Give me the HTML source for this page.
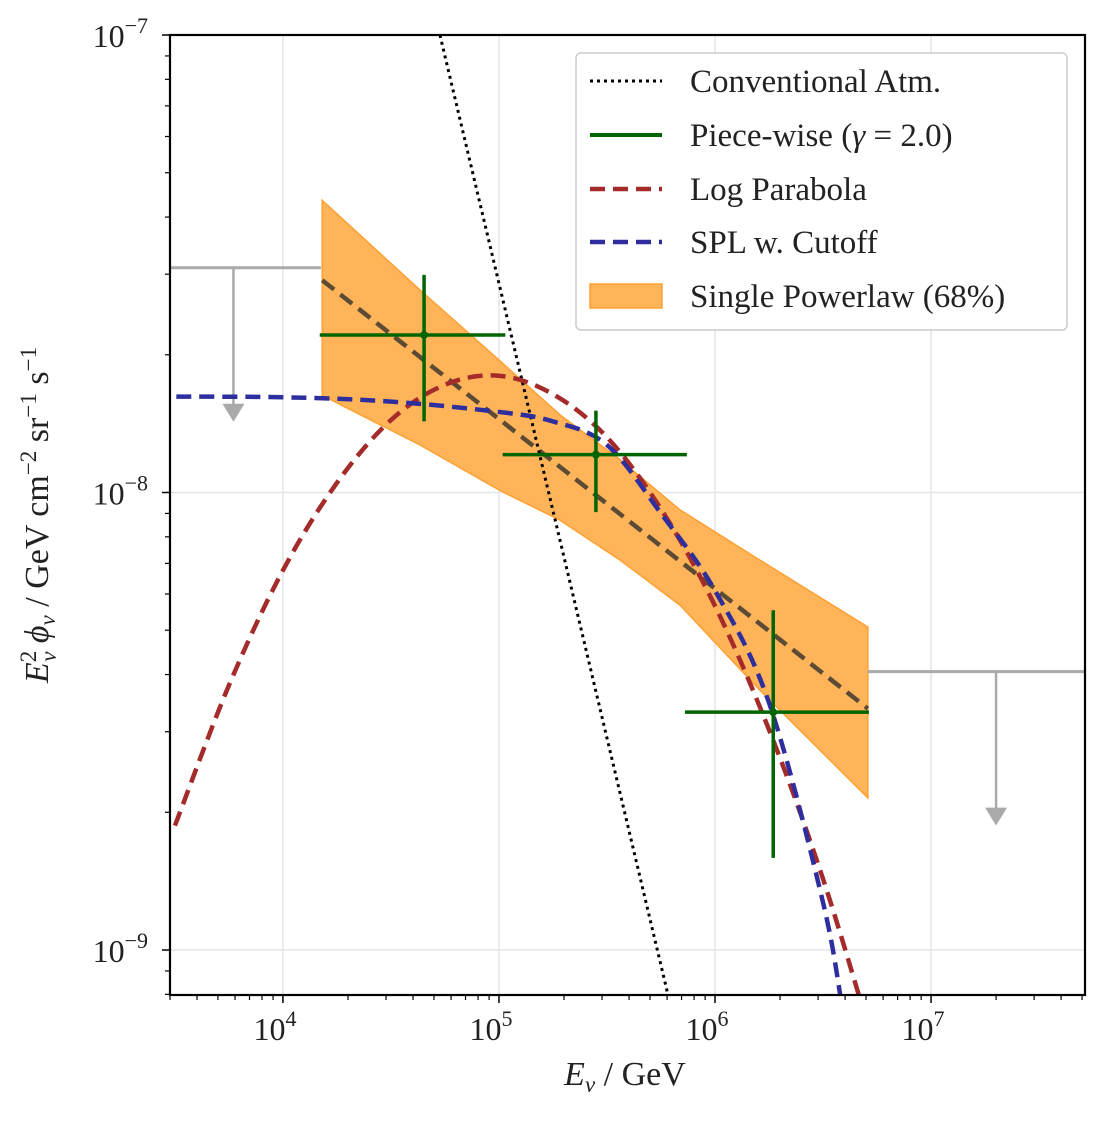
<!DOCTYPE html>
<html><head><meta charset="utf-8"><style>
body{margin:0;background:#fff;}
svg text{font-family:"Liberation Serif",serif;fill:#222;}
</style></head><body>
<svg id="chart" width="1110" height="1123" viewBox="0 0 1110 1123" xmlns="http://www.w3.org/2000/svg">
<defs><clipPath id="clip"><rect x="170" y="35" width="915" height="960"/></clipPath></defs>
<g id="grid"></g>
<g id="plot" clip-path="url(#clip)"></g>
<rect x="170" y="35" width="915" height="960" fill="none" stroke="#000" stroke-width="2.2"/>
<g id="ticks"></g>
<text x="625" y="1085" font-size="34" text-anchor="middle"><tspan font-style="italic">E</tspan><tspan font-style="italic" font-size="23" dy="7">ν</tspan><tspan dy="-7"> / GeV</tspan></text>
<text transform="translate(48,515) rotate(-90)" font-size="34" text-anchor="middle"><tspan font-style="italic">E</tspan><tspan font-size="23" dy="-12">2</tspan><tspan font-style="italic" font-size="23" dx="-11" dy="20">ν</tspan><tspan font-style="italic" dy="-8"> ϕ</tspan><tspan font-style="italic" font-size="23" dy="7">ν</tspan><tspan dy="-7">  / GeV cm</tspan><tspan font-size="23" dy="-12">−2</tspan><tspan dy="12"> sr</tspan><tspan font-size="23" dy="-12">−1</tspan><tspan dy="12"> s</tspan><tspan font-size="23" dy="-12">−1</tspan></text>
<g>
<rect x="576" y="53" width="491" height="277" rx="5" fill="#fff" fill-opacity="0.9" stroke="#ccc" stroke-width="1.5"/>
<line x1="590" y1="81" x2="662" y2="81" stroke="#000" stroke-width="3" stroke-dasharray="3,4"/>
<text x="690" y="92" font-size="33">Conventional Atm.</text>
<line x1="590" y1="135" x2="662" y2="135" stroke="#006400" stroke-width="4"/>
<text x="690" y="146" font-size="33">Piece-wise (<tspan font-style="italic">γ</tspan> = 2.0)</text>
<line x1="590" y1="189" x2="662" y2="189" stroke="#a52a2a" stroke-width="4.5" stroke-dasharray="15,8"/>
<text x="690" y="200" font-size="33">Log Parabola</text>
<line x1="590" y1="242" x2="662" y2="242" stroke="#2e2e9e" stroke-width="4.5" stroke-dasharray="15,8"/>
<text x="690" y="253" font-size="33">SPL w. Cutoff</text>
<rect x="590" y="284" width="72" height="24" fill="#ffb459" stroke="#ffa033" stroke-width="1.5"/>
<text x="690" y="307" font-size="33">Single Powerlaw (68%)</text>
</g>
</svg>
<script>
// ---- data ----
const atmX = [5.33e4, 6.05e5];
const atmY = [1.0e-7, 8.0e-10];
const bandE = [1.52e4, 4.31e4, 1.01e5, 1.91e5, 3.63e5, 6.89e5, 1.61e6, 5.1e6];
const bandUpper = [4.35e-8, 2.77e-8, 1.94e-8, 1.48e-8, 1.18e-8, 9.16e-9, 7.12e-9, 5.08e-9];
const bandLower = [1.63e-8, 1.27e-8, 1.01e-8, 8.71e-9, 7.12e-9, 5.67e-9, 3.70e-9, 2.15e-9];
const bestE = [1.52e4, 5.1e6];
const bestFlux = [2.91e-8, 3.37e-9];
const lpLogE = [3.5, 3.75, 4.0, 4.25, 4.5, 4.75, 5.0, 5.25, 5.5, 5.75, 6.0, 6.25, 6.5, 6.75];
const lpFlux = [1.87e-9, 3.79e-9, 6.76e-9, 1.05e-8, 1.44e-8, 1.72e-8, 1.80e-8, 1.64e-8, 1.32e-8, 9.2e-9, 5.65e-9, 3.03e-9, 1.43e-9, 5.86e-10];
const cutLogE = [3.4, 4.0, 4.5, 5.0, 5.25, 5.5, 5.75, 6.0, 6.25, 6.5, 6.6, 6.7];
const cutFlux = [1.62e-8, 1.615e-8, 1.58e-8, 1.50e-8, 1.43e-8, 1.27e-8, 9.0e-9, 6.1e-9, 3.47e-9, 1.27e-9, 7.0e-10, 4.0e-10];
const pwE = [4.5e4, 2.81e5, 1.86e6];
const pwFlux = [2.21e-8, 1.21e-8, 3.31e-9];
const pwELo = [1.48e4, 1.04e5, 7.26e5];
const pwEHi = [1.07e5, 7.41e5, 5.16e6];
const pwFLo = [1.43e-8, 9.06e-9, 1.59e-9];
const pwFHi = [2.99e-8, 1.51e-8, 5.53e-9];
const ulELo = [3.0e3, 5.1e6];
const ulEHi = [1.5e4, 5.2e7];
const ulEArrow = [5.9e3, 2.0e7];
const ulFlux = [3.10e-8, 4.06e-9];
const xTickLabels = ["10^4", "10^5", "10^6", "10^7"];
const yTickLabels = ["10^-7", "10^-8", "10^-9"];
// ---- axes ----
const X0=170,X1=1085,Y0=35,Y1=995;
const xmin=Math.log10(3000), xmax=Math.log10(5.16e7);
const ymax=-7, ymin=-7-960/457.5;
const xs=e=>X0+(Math.log10(e)-xmin)/(xmax-xmin)*(X1-X0);
const xl=l=>X0+(l-xmin)/(xmax-xmin)*(X1-X0);
const ys=v=>Y0+(ymax-Math.log10(v))/(ymax-ymin)*(Y1-Y0);
const NS="http://www.w3.org/2000/svg";
function mk(tag,attrs,parent){const el=document.createElementNS(NS,tag);for(const k in attrs)el.setAttribute(k,attrs[k]);parent.appendChild(el);return el;}
const plot=document.getElementById('plot'),grid=document.getElementById('grid'),ticks=document.getElementById('ticks');
xTickLabels.forEach(t=>{const p=+t.split('^')[1];const x=xs(Math.pow(10,p));
 const g=mk('line',{x1:x,x2:x,y1:Y0,y2:Y1,stroke:'#e5e5e5','stroke-width':1.5},grid);
 
 
 const tk=mk('line',{x1:x,x2:x,y1:Y1,y2:Y1+8,stroke:'#000','stroke-width':1.5},ticks);
 
 
 const tx=mk('text',{x:x-8,y:Y1+45,'font-size':32,'text-anchor':'middle'},ticks);
 
 
 tx.innerHTML='10<tspan font-size="22" dy="-14">'+p+'</tspan>';
});
for(let p=3;p<=7;p++)for(let m=2;m<=9;m++){const e=m*Math.pow(10,p);const x=xs(e);if(x<X0||x>X1)continue;
 const tk=mk('line',{x1:x,x2:x,y1:Y1,y2:Y1+5,stroke:'#000','stroke-width':1.2},ticks);
 
 }
yTickLabels.forEach(t=>{const p=+t.split('^')[1];const y=ys(Math.pow(10,p));
 const g=mk('line',{x1:X0,x2:X1,y1:y,y2:y,stroke:'#e5e5e5','stroke-width':1.5},grid);
 
 
 const tk=mk('line',{x1:X0-8,x2:X0,y1:y,y2:y,stroke:'#000','stroke-width':1.5},ticks);
 
 
 const tx=mk('text',{x:X0-22,y:y+12,'font-size':32,'text-anchor':'end'},ticks);
 
 
 tx.innerHTML='10<tspan font-size="22" dy="-14">−'+(-p)+'</tspan>';
});
for(let p=-10;p<=-8;p++)for(let m=2;m<=9;m++){const y=ys(m*Math.pow(10,p));if(y<Y0||y>Y1)continue;
 const tk=mk('line',{x1:X0-5,x2:X0,y1:y,y2:y,stroke:'#000','stroke-width':1.2},ticks);
 
 }
let d='M'+bandE.map((e,i)=>xs(e)+','+ys(bandUpper[i])).join(' L');
for(let i=bandE.length-1;i>=0;i--)d+=' L'+xs(bandE[i])+','+ys(bandLower[i]);
const band=mk('path',{d:d+'Z',fill:'#ffb459',stroke:'#ffa033','stroke-width':1.5},plot);


ulFlux.forEach((f,i)=>{const y=ys(f);
 const h=mk('line',{x1:xs(ulELo[i]),x2:xs(ulEHi[i]),y1:y,y2:y,stroke:'#aaa','stroke-width':3},plot);
 
 
 const xa=xs(ulEArrow[i]);
 const v=mk('line',{x1:xa,x2:xa,y1:y,y2:y+138,stroke:'#aaa','stroke-width':2.5},plot);
 
 
 const a=mk('path',{d:`M${xa-11},${y+136} L${xa+11},${y+136} L${xa},${y+154}Z`,fill:'#aaa'},plot);
 
 });
const bf=mk('line',{x1:xs(bestE[0]),y1:ys(bestFlux[0]),x2:xs(bestE[1]),y2:ys(bestFlux[1]),stroke:'#4a3f30','stroke-width':4.5,'stroke-dasharray':'15,8','stroke-opacity':0.9},plot);


const at=mk('line',{x1:xs(atmX[0]),y1:ys(atmY[0]),x2:xs(atmX[1]),y2:ys(atmY[1]),stroke:'#000','stroke-width':3,'stroke-dasharray':'3,4'},plot);


function smooth(le,fl,col,name){
 const pts=le.map((l,i)=>[xl(l),ys(fl[i])]);
 let d='M'+pts[0];
 for(let i=0;i<pts.length-1;i++){const p0=pts[i-1]||pts[i],p1=pts[i],p2=pts[i+1],p3=pts[i+2]||p2;
  const c1=[p1[0]+(p2[0]-p0[0])/6,p1[1]+(p2[1]-p0[1])/6],c2=[p2[0]-(p3[0]-p1[0])/6,p2[1]-(p3[1]-p1[1])/6];
  d+=` C${c1} ${c2} ${p2}`;}
 const p=mk('path',{d:d,fill:'none',stroke:col,'stroke-width':4.5,'stroke-dasharray':'15,8'},plot);
 
 }
smooth(lpLogE,lpFlux,'#a52a2a','log-parabola-curve');
smooth(cutLogE,cutFlux,'#2e2e9e','spl-cutoff-curve');
pwE.forEach((e,i)=>{const x=xs(e),y=ys(pwFlux[i]);
 const h=mk('line',{x1:xs(pwELo[i]),x2:xs(pwEHi[i]),y1:y,y2:y,stroke:'#006400','stroke-width':3.5},plot);
 
 
 const v=mk('line',{x1:x,x2:x,y1:ys(pwFHi[i]),y2:ys(pwFLo[i]),stroke:'#006400','stroke-width':3.5},plot);
 
 
 const c=mk('circle',{cx:x,cy:y,r:4,fill:'#006400'},plot);
 
 });
</script>
</body></html>
